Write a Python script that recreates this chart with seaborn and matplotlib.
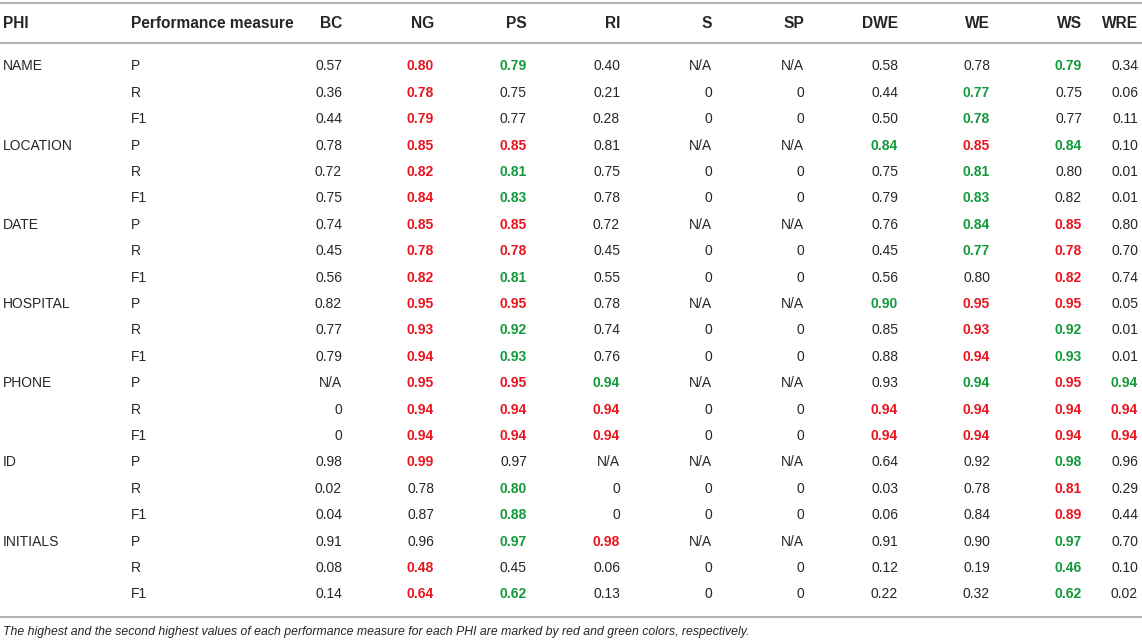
import matplotlib
matplotlib.use("Agg")
import matplotlib.pyplot as plt
import seaborn as sns

sns.set_theme(style="white")
plt.rcParams['font.family'] = ['Liberation Sans', 'DejaVu Sans']

# table content
phi = ["NAME", "LOCATION", "DATE", "HOSPITAL", "PHONE", "ID", "INITIALS"]
measures = ["P", "R", "F1"]
methods = ["BC", "NG", "PS", "RI", "S", "SP", "DWE", "WE", "WS", "WRE"]

BC = ["0.57", "0.36", "0.44", "0.78", "0.72", "0.75", "0.74", "0.45", "0.56", "0.82", "0.77",
      "0.79", "N/A", "0", "0", "0.98", "0.02", "0.04", "0.91", "0.08", "0.14"]
NG = ["0.80", "0.78", "0.79", "0.85", "0.82", "0.84", "0.85", "0.78", "0.82", "0.95", "0.93",
      "0.94", "0.95", "0.94", "0.94", "0.99", "0.78", "0.87", "0.96", "0.48", "0.64"]
PS = ["0.79", "0.75", "0.77", "0.85", "0.81", "0.83", "0.85", "0.78", "0.81", "0.95", "0.92",
      "0.93", "0.95", "0.94", "0.94", "0.97", "0.80", "0.88", "0.97", "0.45", "0.62"]
RI = ["0.40", "0.21", "0.28", "0.81", "0.75", "0.78", "0.72", "0.45", "0.55", "0.78", "0.74",
      "0.76", "0.94", "0.94", "0.94", "N/A", "0", "0", "0.98", "0.06", "0.13"]
S = ["N/A", "0", "0"] * 7
SP = ["N/A", "0", "0"] * 7
DWE = ["0.58", "0.44", "0.50", "0.84", "0.75", "0.79", "0.76", "0.45", "0.56", "0.90", "0.85",
       "0.88", "0.93", "0.94", "0.94", "0.64", "0.03", "0.06", "0.91", "0.12", "0.22"]
WE = ["0.78", "0.77", "0.78", "0.85", "0.81", "0.83", "0.84", "0.77", "0.80", "0.95", "0.93",
      "0.94", "0.94", "0.94", "0.94", "0.92", "0.78", "0.84", "0.90", "0.19", "0.32"]
WS = ["0.79", "0.75", "0.77", "0.84", "0.80", "0.82", "0.85", "0.78", "0.82", "0.95", "0.92",
      "0.93", "0.95", "0.94", "0.94", "0.98", "0.81", "0.89", "0.97", "0.46", "0.62"]
WRE = ["0.34", "0.06", "0.11", "0.10", "0.01", "0.01", "0.80", "0.70", "0.74", "0.05", "0.01",
       "0.01", "0.94", "0.94", "0.94", "0.96", "0.29", "0.44", "0.70", "0.10", "0.02"]
values = [BC, NG, PS, RI, S, SP, DWE, WE, WS, WRE]

# r = highest, g = second highest, one char per row
marks = {
    "BC":  ".....................",
    "NG":  "rrrrrrrrrrrrrrrr...rr",
    "PS":  "g..rggrrgrggrrr.ggg.g",
    "RI":  "............grr...r..",
    "S":   ".....................",
    "SP":  ".....................",
    "DWE": "...g.....g...rr......",
    "WE":  ".ggrgggg.rrrgrr......",
    "WS":  "g..g..rrrrggrrrgrrggg",
    "WRE": "............grr......",
}

RED = "#e8141e"
GREEN = "#11993a"
INK = "#262626"
colors = {"r": RED, "g": GREEN, ".": INK}

fig = plt.figure(figsize=(11.42, 6.42), dpi=100)
ax = fig.add_axes([0, 0, 1, 1])
ax.set_xlim(0, 1142)
ax.set_ylim(642, 0)
ax.axis("off")

fs = 10
col_right = [342, 434, 527, 620, 712, 804, 898, 990, 1082, 1138]
row0, dy = 66.5, 26.4

# rules
for y in (3, 43, 617):
    ax.plot([0, 1142], [y, y], color="#b4b4b4", lw=1.5, solid_capstyle="butt")

# header
hfs = 11.2
ax.text(3, 23, "PHI", fontsize=hfs, fontweight="bold", va="center", ha="left", color=INK)
ax.text(131, 23, "Performance measure", fontsize=hfs, fontweight="bold", va="center",
        ha="left", color=INK)
for name, xr in zip(methods, col_right):
    ax.text(xr, 23, name, fontsize=hfs, fontweight="bold", va="center", ha="right", color=INK)

# body
for i in range(len(phi) * len(measures)):
    y = row0 + i * dy
    if i % 3 == 0:
        ax.text(3, y, phi[i // 3], fontsize=fs, va="center", ha="left", color=INK)
    ax.text(131, y, measures[i % 3], fontsize=fs, va="center", ha="left", color=INK)
    for name, col, xr in zip(methods, values, col_right):
        m = marks[name][i]
        ax.text(xr, y, col[i], fontsize=fs, va="center", ha="right", color=colors[m],
                fontweight="bold" if m != "." else "normal")

ax.text(3, 632, "The highest and the second highest values of each performance measure for "
        "each PHI are marked by red and green colors, respectively.",
        fontsize=8.8, style="italic", va="center", ha="left", color=INK)

fig.savefig("out.png", dpi=100)
